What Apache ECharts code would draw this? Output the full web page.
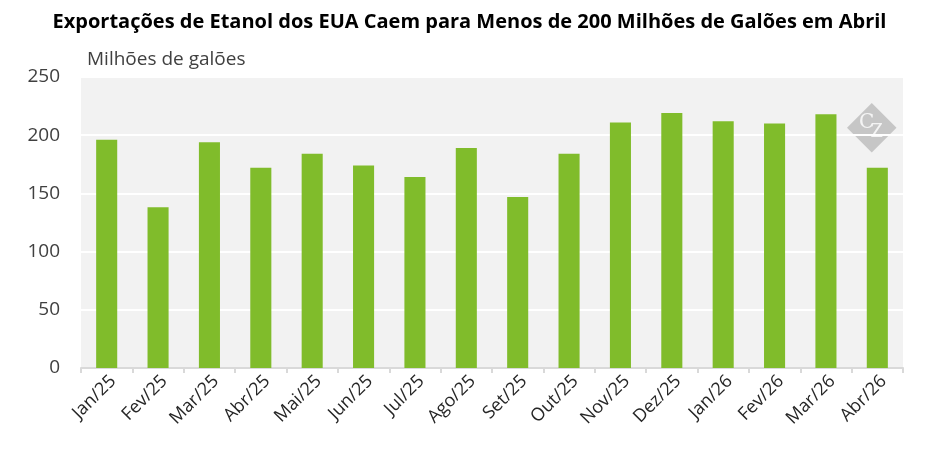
<!DOCTYPE html>
<html>
<head>
<meta charset="utf-8">
<script src="https://cdn.jsdelivr.net/npm/echarts@6/dist/echarts.min.js"></script>
<style>
  html, body { margin: 0; padding: 0; background: #fff; }
  #chart { width: 939px; height: 454px; }
</style>
</head>
<body>
<div id="chart"></div>
<script>
var months = ['Jan/25', 'Fev/25', 'Mar/25', 'Abr/25', 'Mai/25', 'Jun/25', 'Jul/25', 'Ago/25',
              'Set/25', 'Out/25', 'Nov/25', 'Dez/25', 'Jan/26', 'Fev/26', 'Mar/26', 'Abr/26'];
var exports = [196, 138, 194, 172, 184, 174, 164, 189, 147, 184, 211, 219, 212, 210, 218, 172];
var yTicks = [0, 50, 100, 150, 200, 250];

var myChart = echarts.init(document.getElementById('chart'));
var option = {
    animation: false,
    textStyle: { fontFamily: 'Open Sans' },
    title: {
        text: 'Exportações de Etanol dos EUA Caem para Menos de 200 Milhões de Galões em Abril',
        left: 'center',
        top: 7,
        textStyle: { fontSize: 20, fontWeight: 'bold', color: '#000', fontFamily: 'Open Sans' }
    },
    grid: {
        left: 81, right: 36, top: 77, bottom: 86,
        show: true, backgroundColor: '#f2f2f2', borderWidth: 0
    },
    xAxis: {
        type: 'category',
        data: months,
        axisLine: { lineStyle: { color: '#d9d9d9', width: 2 } },
        axisTick: { show: true, length: 5, lineStyle: { color: '#d9d9d9', width: 2 } },
        axisLabel: { rotate: 45, fontSize: 18, color: '#262626', margin: 4, interval: 0, verticalAlign: 'top' }
    },
    yAxis: {
        type: 'value',
        min: yTicks[0],
        max: yTicks[yTicks.length - 1],
        interval: 50,
        name: 'Milhões de galões',
        nameLocation: 'end',
        nameGap: 8,
        nameTextStyle: { fontSize: 19, color: '#404040', align: 'left', padding: [0, 0, 0, 6] },
        axisLine: { show: false },
        axisTick: { show: false },
        axisLabel: { fontSize: 19, color: '#404040', margin: 21 },
        splitLine: { lineStyle: { color: '#ffffff', width: 2 } }
    },
    series: [{
        type: 'bar',
        data: exports,
        barWidth: '41%',
        itemStyle: { color: '#80bc2b' }
    }],
    graphic: [{
        type: 'group',
        left: 847, top: 103,
        children: [{
            type: 'rect',
            shape: { x: -17.5, y: -17.5, width: 35, height: 35 },
            x: 25, y: 25, rotation: Math.PI / 4,
            style: { fill: '#c6c6c6' }
        }, {
            type: 'text',
            x: 20, y: 20,
            style: { text: 'C', fill: '#f4f4f4', font: '20px "DejaVu Serif"', align: 'center', verticalAlign: 'middle' }
        }, {
            type: 'text',
            x: 30, y: 30,
            style: { text: 'Z', fill: '#f4f4f4', font: '18px "DejaVu Serif"', align: 'center', verticalAlign: 'middle' }
        }]
    }]
};
myChart.setOption(option);
</script>
</body>
</html>
